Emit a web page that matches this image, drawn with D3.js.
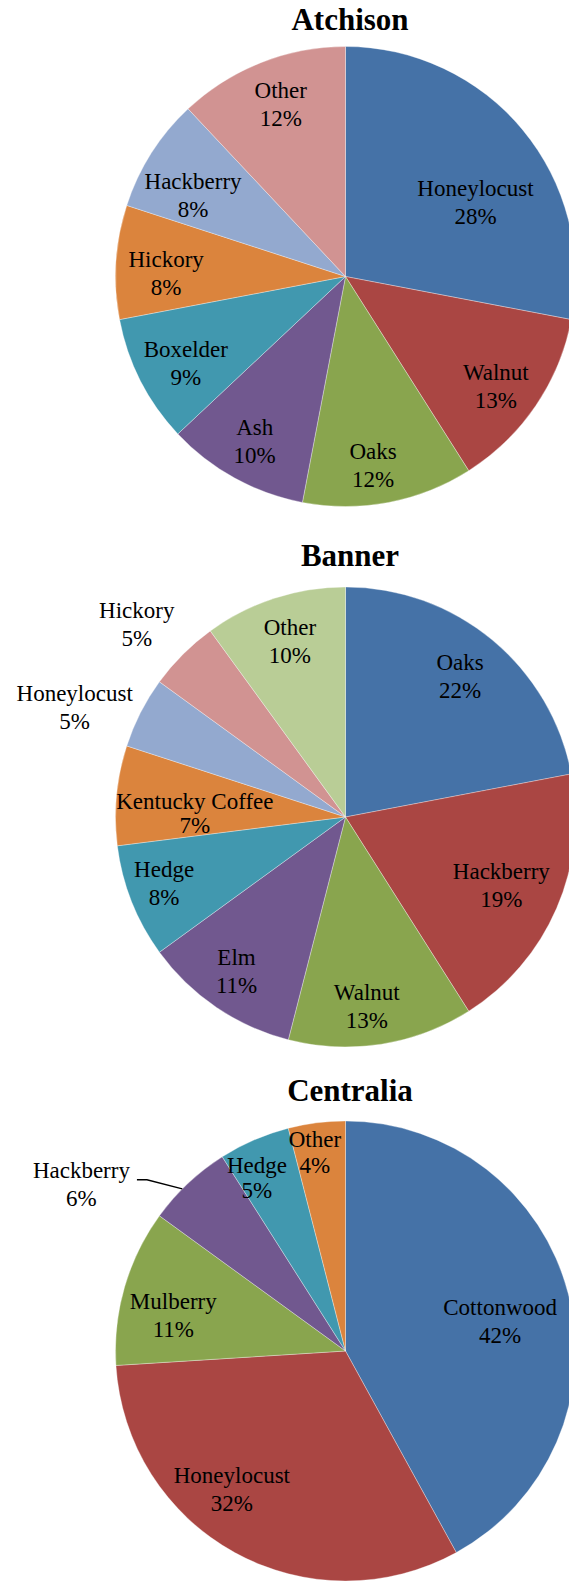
<!DOCTYPE html>
<html>
<head>
<meta charset="utf-8">
<script src="https://cdn.jsdelivr.net/npm/d3@7"></script>
<style>
  html, body { margin: 0; padding: 0; background: #fff; }
  svg { display: block; }
  .title { font-family: "Liberation Serif", "Times New Roman", serif; font-weight: bold; font-size: 31px; }
  .lbl { font-family: "Liberation Serif", "Times New Roman", serif; font-size: 23px; fill: #000; }
</style>
</head>
<body>
<svg id="chart" width="569" height="1583"></svg>
<script>
// Tree species composition (percent of trees) for three sites
const atchisonSpecies = ["Honeylocust", "Walnut", "Oaks", "Ash", "Boxelder", "Hickory", "Hackberry", "Other"];
const atchisonPct     = [28, 13, 12, 10, 9, 8, 8, 12];

const bannerSpecies = ["Oaks", "Hackberry", "Walnut", "Elm", "Hedge", "Kentucky Coffee", "Honeylocust", "Hickory", "Other"];
const bannerPct     = [22, 19, 13, 11, 8, 7, 5, 5, 10];

const centraliaSpecies = ["Cottonwood", "Honeylocust", "Mulberry", "Hackberry", "Hedge", "Other"];
const centraliaPct     = [42, 32, 11, 6, 5, 4];

// Slice colours, applied in slice order
const palette = ["#4572A7", "#AA4643", "#89A54E", "#71588F", "#4198AF",
                 "#DB843D", "#93A9CF", "#D19392", "#B9CD96"];

// Best-fit label placement: [angle shift in degrees, radius as fraction of R, optional line gap]
const charts = [
  { title: "Atchison", species: atchisonSpecies, values: atchisonPct,
    cy: 276.5, titleY: 30,
    place: { Honeylocust: [10, 0.65], Walnut: [2, 0.81], Oaks: [2.5, 0.83], Ash: [0, 0.82],
             Boxelder: [-1.5, 0.79], Hickory: [-2.5, 0.78], Hackberry: [-4.5, 0.75], Other: [1, 0.8] } },
  { title: "Banner", species: bannerSpecies, values: bannerPct,
    cy: 817, titleY: 566,
    place: { Oaks: [-0.5, 0.79], Hackberry: [0.3, 0.74], Walnut: [2.6, 0.83], Elm: [1.1, 0.82],
             Hedge: [1.5, 0.84], "Kentucky Coffee": [-4.6, 0.655, 24], Honeylocust: [-5, 1.27],
             Hickory: [-2.3, 1.235], Other: [0.4, 0.8] } },
  { title: "Centralia", species: centraliaSpecies, values: centraliaPct,
    cy: 1351, titleY: 1101,
    place: { Cottonwood: [3.4, 0.685], Honeylocust: [10.5, 0.78], Mulberry: [-4.4, 0.765],
             Hackberry: [-14.6, 1.357], Hedge: [-3.9, 0.84, 25], Other: [-1.6, 0.87, 26] },
    leader: { Hackberry: -2 } }
];

const R = 230;
const cx = 345.5;
const titleX = 350;
const lineH = 28;
const fs = 23;

const svg = d3.select("#chart");
svg.append("rect").attr("width", 569).attr("height", 1583).attr("fill", "#fff");

const pie = d3.pie().sort(null).value(d => d.value);
const arc = d3.arc().innerRadius(0).outerRadius(R);

charts.forEach(chart => {
  const data = chart.species.map((s, i) => ({ name: s, value: chart.values[i] }));
  const arcs = pie(data);

  svg.append("text")
    .attr("class", "title")
    .attr("x", titleX)
    .attr("y", chart.titleY)
    .attr("text-anchor", "middle")
    .text(chart.title);

  const g = svg.append("g").attr("transform", `translate(${cx},${chart.cy})`);

  g.selectAll("path.slice")
    .data(arcs)
    .join("path")
    .attr("class", "slice")
    .attr("d", arc)
    .attr("fill", (d, i) => palette[i % palette.length])
    .attr("stroke", "rgba(255,255,255,0.55)")
    .attr("stroke-width", 0.6);

  arcs.forEach(d => {
    const [shift, frac, gap] = chart.place[d.data.name] || [0, 0.8];
    const lh = gap || lineH;
    const a = (d.startAngle + d.endAngle) / 2 + shift * Math.PI / 180;
    const r = frac * R;
    const x = r * Math.sin(a);
    const y = -r * Math.cos(a);
    const b1 = y - lineH / 2 + 0.33 * fs;

    const t = g.append("text")
      .attr("class", "lbl")
      .attr("text-anchor", "middle");
    const first = t.append("tspan").attr("x", x).attr("y", b1).text(d.data.name);
    t.append("tspan").attr("x", x).attr("y", b1 + lh).text(d3.format(".0%")(d.data.value / 100));

    if (chart.leader && chart.leader[d.data.name] !== undefined) {
      const w = first.node().getComputedTextLength();
      const x0 = x + w / 2 + 7;
      const y0 = b1 + 1.5;
      const la = (d.startAngle + d.endAngle) / 2 + chart.leader[d.data.name] * Math.PI / 180;
      const ex = R * Math.sin(la), ey = -R * Math.cos(la);
      g.append("path")
        .attr("d", d3.line()([[x0, y0], [x0 + 10, y0], [ex, ey]]))
        .attr("fill", "none")
        .attr("stroke", "#000")
        .attr("stroke-width", 1.3);
    }
  });
});
</script>
</body>
</html>
